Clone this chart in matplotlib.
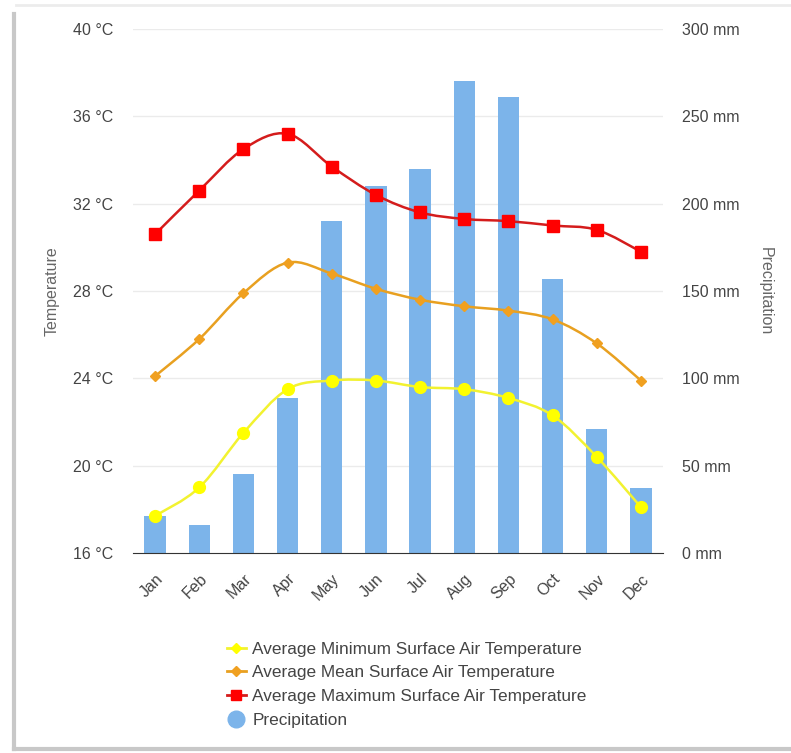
import numpy as np
import matplotlib
matplotlib.use("Agg")
import matplotlib.pyplot as plt
from matplotlib.path import Path
from matplotlib.patches import PathPatch
from matplotlib.lines import Line2D

plt.rcParams['font.family'] = ['Liberation Sans', 'DejaVu Sans']

months = ["Jan", "Feb", "Mar", "Apr", "May", "Jun",
          "Jul", "Aug", "Sep", "Oct", "Nov", "Dec"]
t_min = [17.7, 19.0, 21.5, 23.5, 23.9, 23.9, 23.6, 23.5, 23.1, 22.3, 20.4, 18.1]
t_mean = [24.1, 25.8, 27.9, 29.3, 28.8, 28.1, 27.6, 27.3, 27.1, 26.7, 25.6, 23.9]
t_max = [30.6, 32.6, 34.5, 35.2, 33.7, 32.4, 31.6, 31.3, 31.2, 31.0, 30.8, 29.8]
precip = [21, 16, 45, 89, 190, 210, 220, 270, 261, 157, 71, 37]

temp_ticks = [16, 20, 24, 28, 32, 36, 40]
precip_ticks = [0, 50, 100, 150, 200, 250, 300]

C_BAR = "#7cb4ea"
C_MIN_LINE, C_MIN_MK = "#f2f230", "#ffff00"
C_MEAN_LINE, C_MEAN_MK = "#e8a020", "#f0a020"
C_MAX_LINE, C_MAX_MK = "#d41c1c", "#ff0000"
TXT = "#444444"


def smooth_path(xs, ys):
    # catmull-rom turned into cubic bezier segments
    pts = np.column_stack([xs, ys]).astype(float)
    ext = np.vstack([pts[0], pts, pts[-1]])
    verts = [pts[0]]
    codes = [Path.MOVETO]
    for i in range(1, len(ext) - 2):
        p0, p1, p2, p3 = ext[i - 1], ext[i], ext[i + 1], ext[i + 2]
        verts += [p1 + (p2 - p0) / 6, p2 - (p3 - p1) / 6, p2]
        codes += [Path.CURVE4] * 3
    return Path(verts, codes)


fig = plt.figure(figsize=(7.91, 7.53), dpi=100)
fig.patch.set_facecolor("white")

ax = fig.add_axes([133 / 791, 1 - 553 / 753, 530 / 791, 524 / 753])
ax2 = ax.twinx()

x = np.arange(len(months))

# precipitation bars on the right axis, drawn underneath
ax2.bar(x, precip, width=0.48, color=C_BAR, zorder=1)
ax2.set_ylim(0, 300)
ax2.set_yticks(precip_ticks)
ax2.set_yticklabels([f"{v} mm" for v in precip_ticks])

ax.set_zorder(ax2.get_zorder() + 1)
ax.patch.set_visible(False)
ax2.set_zorder(0)

# put gridlines behind the bars
for v in temp_ticks[1:]:
    ax2.axhline((v - 16) / 24 * 300, color="#ebebeb", lw=1, zorder=0)

series = [
    (t_max, C_MAX_LINE, C_MAX_MK, "s", 8),
    (t_mean, C_MEAN_LINE, C_MEAN_MK, "D", 5),
    (t_min, C_MIN_LINE, C_MIN_MK, "o", 8.5),
]
for vals, lc, mc, mk, ms in series:
    ax.add_patch(PathPatch(smooth_path(x, vals), fill=False, edgecolor=lc, lw=1.8, zorder=3))
    ax.plot(x, vals, ls="none", marker=mk, ms=ms, color=mc, zorder=4)

ax.set_xlim(-0.5, 11.5)
ax.set_ylim(16, 40)
ax.set_yticks(temp_ticks)
ax.set_yticklabels([f"{v} °C" for v in temp_ticks])
ax.set_xticks(x)
ax.set_xticklabels(months, rotation=45, ha="right", rotation_mode="anchor")

for a in (ax, ax2):
    for s in a.spines.values():
        s.set_visible(False)
    a.tick_params(length=0, labelsize=11.5, labelcolor=TXT)
ax.tick_params(axis="y", pad=14)
ax.tick_params(axis="x", pad=13)
ax2.tick_params(axis="y", pad=14)
ax2.spines["bottom"].set_visible(True)
ax2.spines["bottom"].set_color("#333333")

ax.set_ylabel("Temperature", color="#666666", fontsize=11.5)
ax.yaxis.set_label_coords((60 - 133) / 530, 0.5)
ax2.set_ylabel("Precipitation", color="#666666", fontsize=11.5, rotation=270, va="center")
ax2.yaxis.set_label_coords((765 - 133) / 530, 0.5)

handles = [
    Line2D([], [], color=C_MIN_LINE, marker="D", ms=5, mfc=C_MIN_MK, mec=C_MIN_MK, lw=2),
    Line2D([], [], color=C_MEAN_LINE, marker="D", ms=5, mfc=C_MEAN_MK, mec=C_MEAN_MK, lw=2),
    Line2D([], [], color=C_MAX_LINE, marker="s", ms=7, mfc=C_MAX_MK, mec=C_MAX_MK, lw=2),
    Line2D([], [], ls="none", marker="o", ms=12, color=C_BAR),
]
labels = ["Average Minimum Surface Air Temperature",
          "Average Mean Surface Air Temperature",
          "Average Maximum Surface Air Temperature",
          "Precipitation"]
leg = fig.legend(handles, labels, loc="upper left", bbox_to_anchor=(218 / 791, 1 - 633 / 753),
                 frameon=False, fontsize=12.4, handlelength=1.1, handletextpad=0.4,
                 labelspacing=0.5, borderpad=0)
for t in leg.get_texts():
    t.set_color(TXT)

# screenshot frame with shadow on left and bottom
fig.add_artist(Line2D([14 / 791, 14 / 791], [1 - 14 / 753, 1 - 749 / 753],
                      transform=fig.transFigure, color="#c8c8c8", lw=3))
fig.add_artist(Line2D([14 / 791, 1], [1 - 749 / 753, 1 - 749 / 753],
                      transform=fig.transFigure, color="#c8c8c8", lw=3))
fig.add_artist(Line2D([16 / 791, 1], [1 - 5 / 753, 1 - 5 / 753],
                      transform=fig.transFigure, color="#ececec", lw=2))

fig.savefig("out.png", dpi=100, facecolor="white")
